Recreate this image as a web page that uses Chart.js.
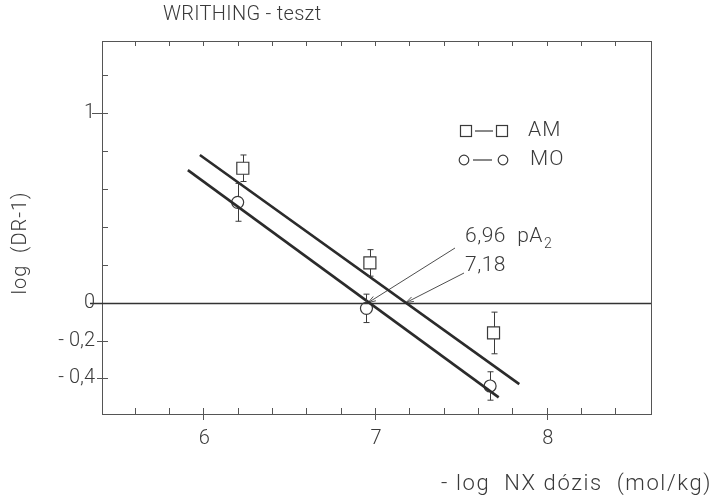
<!DOCTYPE html>
<html>
<head>
<meta charset="utf-8">
<script src="https://cdn.jsdelivr.net/npm/chart.js@4/dist/chart.umd.min.js"></script>
<style>
  html, body { margin: 0; padding: 0; background: #fff; }
  #wrap { width: 718px; height: 503px; position: relative; }
</style>
</head>
<body>
<div id="wrap"><canvas id="c" width="718" height="503"></canvas></div>
<script>
// Measured points (log dose, log(DR-1)) with error half-widths
const AM_X = [6.23, 6.97, 7.69];
const AM_Y = [0.71, 0.21, -0.16];
const AM_ERR = [0.07, 0.07, 0.11];
const MO_X = [6.20, 6.95, 7.67];
const MO_Y = [0.53, -0.03, -0.44];
const MO_ERR = [0.10, 0.075, 0.075];

// Fitted regression segments (end points)
const AM_FIT_X = [5.98, 7.84];
const AM_FIT_Y = [0.78, -0.43];
const MO_FIT_X = [5.91, 7.72];
const MO_FIT_Y = [0.70, -0.50];

// pA2 values where the fits cross log(DR-1) = 0
const PA2_MO = 6.96;
const PA2_AM = 7.18;

// Axis ticks and labels
const X_TICKS = [5.6, 5.8, 6, 6.2, 6.4, 6.6, 6.8, 7, 7.2, 7.4, 7.6, 7.8, 8, 8.2, 8.4];
const X_LABELS = [6, 7, 8];
const Y_TICKS = [-0.4, -0.2, 0, 0.2, 0.4, 0.6, 0.8, 1, 1.2];
const Y_LABELS = [1, 0, -0.2, -0.4];
const Y_LABEL_TEXT = ['1', '0', '- 0,2', '- 0,4'];

const INK = '#3a3a3a';
const FONT = 'Roboto, "DejaVu Sans", sans-serif';
function font(px) { return '300 ' + px + 'px ' + FONT; }

function pts(xs, ys) { return xs.map((x, i) => ({ x: x, y: ys[i] })); }

function arrow(ctx, x0, y0, x1, y1) {
  ctx.beginPath();
  ctx.moveTo(x0, y0);
  ctx.lineTo(x1, y1);
  const a = Math.atan2(y1 - y0, x1 - x0);
  const L = 8, s = 0.32;
  ctx.moveTo(x1, y1);
  ctx.lineTo(x1 - L * Math.cos(a - s), y1 - L * Math.sin(a - s));
  ctx.moveTo(x1, y1);
  ctx.lineTo(x1 - L * Math.cos(a + s), y1 - L * Math.sin(a + s));
  ctx.stroke();
}

function text(ctx, str, x, y, px, spacing) {
  ctx.font = font(px);
  ctx.letterSpacing = (spacing || 0) + 'px';
  ctx.fillText(str, x, y);
  ctx.letterSpacing = '0px';
}

const decorations = {
  id: 'decorations',
  beforeDatasetsDraw(chart) {
    const ctx = chart.ctx, xs = chart.scales.x, ys = chart.scales.y;
    const a = chart.chartArea;
    ctx.save();
    ctx.strokeStyle = '#555';
    ctx.lineWidth = 1;
    ctx.strokeRect(a.left + 0.5, a.top + 0.5, a.right - a.left, a.bottom - a.top);

    // x ticks, bottom (inward, major ones crossing) and top (inward)
    ctx.beginPath();
    X_TICKS.forEach(v => {
      const px = Math.round(xs.getPixelForValue(v)) + 0.5;
      const major = X_LABELS.includes(v);
      ctx.moveTo(px, a.bottom - 6);
      ctx.lineTo(px, a.bottom + (major ? 6 : 0));
      ctx.moveTo(px, a.top);
      ctx.lineTo(px, a.top + 5);
    });
    // y ticks, left (inward, labelled ones crossing)
    Y_TICKS.forEach(v => {
      const py = Math.round(ys.getPixelForValue(v)) + 0.5;
      const lab = Y_LABELS.includes(v);
      ctx.moveTo(a.left - (v === 1 ? 10 : lab ? 5 : 0), py);
      ctx.lineTo(a.left + 6, py);
    });
    ctx.stroke();

    // zero line
    const y0 = Math.round(ys.getPixelForValue(0)) + 0.5;
    ctx.strokeStyle = '#333';
    ctx.lineWidth = 1.4;
    ctx.beginPath();
    ctx.moveTo(a.left - 12, y0);
    ctx.lineTo(a.right, y0);
    ctx.stroke();

    // tick labels
    ctx.fillStyle = INK;
    ctx.textAlign = 'center';
    ctx.textBaseline = 'middle';
    X_LABELS.forEach(v => text(ctx, String(v), xs.getPixelForValue(v) + 1, a.bottom + 25, 20));
    ctx.textAlign = 'right';
    Y_LABELS.forEach((v, i) => text(ctx, Y_LABEL_TEXT[i], a.left - 7, ys.getPixelForValue(v), 20));

    // titles
    ctx.textAlign = 'left';
    text(ctx, 'WRITHING - teszt', 163, 15, 20, 0.3);
    ctx.textAlign = 'right';
    text(ctx, '- log  NX dózis  (mol/kg)', 712, 484, 22, 1.6);
    ctx.save();
    ctx.translate(21, 243);
    ctx.rotate(-Math.PI / 2);
    ctx.textAlign = 'center';
    text(ctx, 'log  (DR-1)', 0, 0, 20, 1);
    ctx.restore();

    // legend
    ctx.strokeStyle = INK;
    ctx.lineWidth = 1.2;
    const ly1 = 131, ly2 = 160;
    ctx.strokeRect(460.5, ly1 - 5.5, 11, 11);
    ctx.strokeRect(496.5, ly1 - 5.5, 11, 11);
    ctx.beginPath(); ctx.moveTo(475, ly1); ctx.lineTo(493, ly1); ctx.stroke();
    ctx.beginPath(); ctx.arc(464, ly2, 4.8, 0, Math.PI * 2); ctx.stroke();
    ctx.beginPath(); ctx.arc(503, ly2, 4.8, 0, Math.PI * 2); ctx.stroke();
    ctx.beginPath(); ctx.moveTo(473, ly2); ctx.lineTo(492, ly2); ctx.stroke();
    ctx.textAlign = 'left';
    text(ctx, 'AM', 528, ly1, 21, 1);
    text(ctx, 'MO', 530, ly2, 21, 1);

    // pA2 annotations with arrows to the zero crossings
    text(ctx, '6,96  pA', 465, 237, 21, 0.5);
    ctx.font = font(21);
    ctx.letterSpacing = '0.5px';
    const w = ctx.measureText('6,96  pA').width;
    ctx.letterSpacing = '0px';
    text(ctx, '2', 465 + w + 1, 244, 14);
    text(ctx, '7,18', 465, 266, 21, 0.5);
    ctx.lineWidth = 0.9;
    arrow(ctx, 455, 248, xs.getPixelForValue(PA2_MO), ys.getPixelForValue(0));
    arrow(ctx, 464, 273, xs.getPixelForValue(PA2_AM), ys.getPixelForValue(0));
    ctx.restore();
  },
  afterDatasetsDraw(chart) {
    // error bars, kept outside the hollow markers
    const ctx = chart.ctx, xs = chart.scales.x, ys = chart.scales.y;
    ctx.save();
    ctx.strokeStyle = INK;
    ctx.lineWidth = 1;
    const draw = (X, Y, E, half) => {
      X.forEach((x, i) => {
        const px = Math.round(xs.getPixelForValue(x)) + 0.5;
        const pc = ys.getPixelForValue(Y[i]);
        const pt = ys.getPixelForValue(Y[i] + E[i]);
        const pb = ys.getPixelForValue(Y[i] - E[i]);
        ctx.beginPath();
        ctx.moveTo(px, pt); ctx.lineTo(px, pc - half);
        ctx.moveTo(px, pc + half); ctx.lineTo(px, pb);
        ctx.moveTo(px - 3, pt); ctx.lineTo(px + 3, pt);
        ctx.moveTo(px - 3, pb); ctx.lineTo(px + 3, pb);
        ctx.stroke();
      });
    };
    draw(AM_X, AM_Y, AM_ERR, 6);
    draw(MO_X, MO_Y, MO_ERR, 6);
    ctx.restore();
  }
};

new Chart(document.getElementById('c'), {
  type: 'scatter',
  data: {
    datasets: [
      { label: 'AM fit', data: pts(AM_FIT_X, AM_FIT_Y), showLine: true, pointRadius: 0,
        borderColor: '#2b2b2b', borderWidth: 2.6 },
      { label: 'MO fit', data: pts(MO_FIT_X, MO_FIT_Y), showLine: true, pointRadius: 0,
        borderColor: '#2b2b2b', borderWidth: 2.6 },
      { label: 'AM', data: pts(AM_X, AM_Y), pointStyle: 'rect', pointRadius: 8.5,
        backgroundColor: 'rgba(0,0,0,0)', borderColor: INK, borderWidth: 1.2 },
      { label: 'MO', data: pts(MO_X, MO_Y), pointStyle: 'circle', pointRadius: 6,
        backgroundColor: 'rgba(0,0,0,0)', borderColor: INK, borderWidth: 1.2 }
    ]
  },
  options: {
    responsive: false,
    animation: false,
    layout: { padding: { left: 102, top: 41, right: 67, bottom: 89 } },
    scales: {
      x: { type: 'linear', min: 5.41, max: 8.607, display: false },
      y: { type: 'linear', min: -0.588, max: 1.382, display: false }
    },
    plugins: { legend: { display: false }, tooltip: { enabled: false } }
  },
  plugins: [decorations]
});
</script>
</body>
</html>
